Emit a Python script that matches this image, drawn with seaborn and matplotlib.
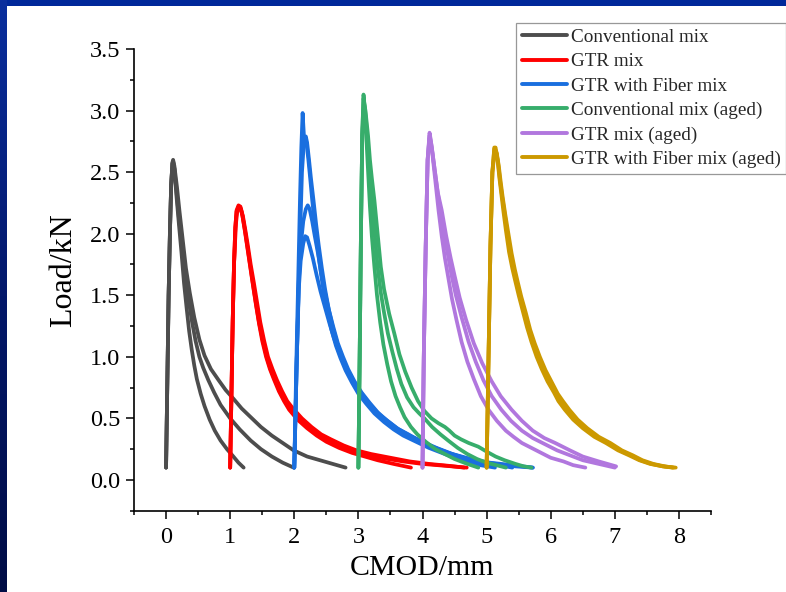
import numpy as np
import pandas as pd
import matplotlib
matplotlib.use("Agg")
import matplotlib.pyplot as plt
from matplotlib.lines import Line2D
from matplotlib.ticker import MultipleLocator
import seaborn as sns

# ---------------- data ----------------
groups = ["Conventional mix", "GTR mix", "GTR with Fiber mix",
          "Conventional mix (aged)", "GTR mix (aged)", "GTR with Fiber mix (aged)"]
colors = ["#4d4d4d", "#ff0000", "#1a6fdf", "#37ad6b", "#b177de", "#cc9900"]

# each specimen: list of [CMOD (mm), Load (kN)] points
conv = [
    [[0.00, 0.10], [0.02, 0.80], [0.04, 1.50], [0.06, 2.00], [0.08, 2.40], [0.10, 2.57], [0.11, 2.59],
     [0.13, 2.52], [0.16, 2.32], [0.20, 2.08], [0.24, 1.85], [0.28, 1.60], [0.32, 1.40], [0.36, 1.21],
     [0.40, 1.06], [0.44, 0.93], [0.48, 0.82], [0.54, 0.70], [0.60, 0.60], [0.68, 0.49], [0.76, 0.40],
     [0.85, 0.32], [0.95, 0.25], [1.05, 0.19], [1.13, 0.14], [1.21, 0.10]],
    [[0.00, 0.10], [0.02, 0.80], [0.04, 1.50], [0.06, 2.00], [0.08, 2.40], [0.10, 2.57], [0.11, 2.58],
     [0.13, 2.53], [0.16, 2.36], [0.20, 2.13], [0.25, 1.90], [0.30, 1.68], [0.35, 1.47], [0.40, 1.30],
     [0.46, 1.13], [0.52, 1.00], [0.58, 0.91], [0.66, 0.81], [0.75, 0.71], [0.85, 0.61], [1.00, 0.50],
     [1.15, 0.41], [1.32, 0.32], [1.48, 0.25], [1.65, 0.19], [1.82, 0.14], [1.99, 0.10]],
    [[0.00, 0.10], [0.02, 0.80], [0.04, 1.50], [0.06, 2.00], [0.08, 2.40], [0.10, 2.58], [0.11, 2.60],
     [0.13, 2.55], [0.17, 2.38], [0.21, 2.18], [0.26, 1.95], [0.31, 1.72], [0.37, 1.52], [0.44, 1.32],
     [0.52, 1.14], [0.60, 1.01], [0.70, 0.90], [0.82, 0.81], [0.93, 0.73], [1.05, 0.66], [1.18, 0.58],
     [1.32, 0.51], [1.48, 0.43], [1.65, 0.36], [1.82, 0.30], [1.99, 0.24], [2.20, 0.19], [2.40, 0.16],
     [2.60, 0.13], [2.80, 0.10]],
]

gtr = [
    [[1.00, 0.10], [1.02, 0.70], [1.04, 1.30], [1.06, 1.75], [1.08, 2.05], [1.10, 2.19], [1.13, 2.23],
     [1.16, 2.22], [1.19, 2.15], [1.23, 2.02], [1.27, 1.88], [1.31, 1.74], [1.35, 1.60], [1.40, 1.43],
     [1.45, 1.27], [1.50, 1.13], [1.56, 1.00], [1.62, 0.90], [1.68, 0.82], [1.76, 0.72], [1.84, 0.64],
     [1.92, 0.57], [2.05, 0.49], [2.20, 0.42], [2.35, 0.36], [2.50, 0.31], [2.70, 0.26], [2.90, 0.22],
     [3.10, 0.19], [3.30, 0.16], [3.55, 0.13], [3.82, 0.10]],
    [[1.00, 0.10], [1.02, 0.70], [1.04, 1.30], [1.06, 1.75], [1.08, 2.05], [1.10, 2.18], [1.13, 2.22],
     [1.16, 2.21], [1.19, 2.15], [1.23, 2.03], [1.27, 1.89], [1.31, 1.75], [1.35, 1.61], [1.40, 1.44],
     [1.45, 1.28], [1.51, 1.13], [1.57, 1.00], [1.63, 0.90], [1.70, 0.81], [1.78, 0.72], [1.86, 0.64],
     [1.95, 0.57], [2.08, 0.49], [2.22, 0.43], [2.37, 0.37], [2.52, 0.32], [2.72, 0.27], [2.92, 0.235],
     [3.15, 0.20], [3.40, 0.175], [3.70, 0.15], [4.00, 0.13], [4.35, 0.115], [4.69, 0.10]],
    [[1.00, 0.10], [1.02, 0.70], [1.04, 1.30], [1.06, 1.75], [1.09, 2.08], [1.11, 2.18], [1.14, 2.21],
     [1.17, 2.20], [1.20, 2.14], [1.24, 2.02], [1.28, 1.89], [1.32, 1.75], [1.37, 1.60], [1.42, 1.44],
     [1.47, 1.28], [1.53, 1.13], [1.59, 1.00], [1.66, 0.90], [1.73, 0.81], [1.81, 0.72], [1.89, 0.64],
     [1.98, 0.58], [2.12, 0.50], [2.27, 0.43], [2.42, 0.37], [2.57, 0.33], [2.77, 0.28], [2.97, 0.24],
     [3.20, 0.21], [3.50, 0.18], [3.80, 0.15], [4.10, 0.13], [4.40, 0.115], [4.65, 0.10]],
]

fib = [
    [[2.00, 0.10], [2.03, 0.90], [2.06, 1.60], [2.09, 2.30], [2.11, 2.70], [2.13, 2.98], [2.15, 2.80],
     [2.17, 2.78], [2.19, 2.74], [2.22, 2.60], [2.25, 2.44], [2.28, 2.27], [2.32, 2.08], [2.36, 1.90],
     [2.41, 1.70], [2.46, 1.52], [2.52, 1.36], [2.58, 1.22], [2.65, 1.09], [2.72, 0.99], [2.80, 0.89],
     [2.90, 0.79], [3.00, 0.70], [3.12, 0.62], [3.25, 0.54], [3.40, 0.47], [3.55, 0.41], [3.70, 0.36],
     [3.90, 0.31], [4.10, 0.26], [4.30, 0.22], [4.50, 0.18], [4.70, 0.15], [4.90, 0.12], [5.13, 0.10]],
    [[2.00, 0.10], [2.04, 1.00], [2.08, 1.80], [2.12, 2.50], [2.15, 2.74], [2.18, 2.79], [2.20, 2.74],
     [2.23, 2.60], [2.26, 2.45], [2.30, 2.27], [2.34, 2.08], [2.38, 1.91], [2.43, 1.72], [2.48, 1.55],
     [2.54, 1.38], [2.60, 1.24], [2.67, 1.11], [2.74, 1.00], [2.82, 0.90], [2.92, 0.80], [3.03, 0.71],
     [3.15, 0.63], [3.28, 0.55], [3.43, 0.48], [3.58, 0.42], [3.75, 0.37], [3.95, 0.32], [4.15, 0.27],
     [4.40, 0.22], [4.65, 0.18], [4.90, 0.15], [5.15, 0.13], [5.45, 0.11], [5.72, 0.10]],
    [[2.00, 0.10], [2.04, 1.00], [2.07, 1.60], [2.10, 1.90], [2.14, 2.10], [2.18, 2.20], [2.21, 2.23],
     [2.24, 2.20], [2.28, 2.10], [2.32, 1.98], [2.37, 1.84], [2.42, 1.68], [2.48, 1.52], [2.54, 1.38],
     [2.61, 1.24], [2.68, 1.11], [2.76, 1.00], [2.84, 0.90], [2.94, 0.80], [3.05, 0.71], [3.17, 0.63],
     [3.30, 0.55], [3.45, 0.48], [3.60, 0.42], [3.78, 0.37], [3.98, 0.31], [4.20, 0.26], [4.45, 0.21],
     [4.70, 0.17], [4.95, 0.14], [5.20, 0.12], [5.40, 0.10]],
    [[2.00, 0.10], [2.04, 1.00], [2.07, 1.55], [2.10, 1.78], [2.14, 1.92], [2.17, 1.98], [2.20, 1.97],
     [2.24, 1.90], [2.29, 1.80], [2.35, 1.66], [2.41, 1.53], [2.48, 1.40], [2.55, 1.27], [2.62, 1.15],
     [2.70, 1.04], [2.78, 0.94], [2.87, 0.85], [2.97, 0.76], [3.08, 0.68], [3.20, 0.60], [3.33, 0.53],
     [3.48, 0.47], [3.63, 0.41], [3.80, 0.36], [4.00, 0.31], [4.22, 0.26], [4.47, 0.21], [4.75, 0.17],
     [5.05, 0.14], [5.40, 0.12], [5.72, 0.10]],
]

conv_aged = [
    [[3.00, 0.10], [3.02, 1.00], [3.04, 2.00], [3.06, 2.80], [3.08, 3.13], [3.10, 3.02], [3.12, 2.82],
     [3.15, 2.52], [3.18, 2.22], [3.21, 1.98], [3.25, 1.73], [3.29, 1.50], [3.34, 1.28], [3.39, 1.10],
     [3.45, 0.94], [3.51, 0.80], [3.58, 0.68], [3.65, 0.59], [3.72, 0.51], [3.82, 0.43], [3.92, 0.37],
     [4.05, 0.31], [4.20, 0.25], [4.35, 0.21], [4.50, 0.17], [4.70, 0.13], [4.87, 0.10]],
    [[3.00, 0.10], [3.02, 1.00], [3.04, 2.00], [3.06, 2.80], [3.08, 3.10], [3.11, 3.00], [3.14, 2.75],
     [3.17, 2.50], [3.21, 2.27], [3.25, 2.02], [3.30, 1.73], [3.35, 1.52], [3.40, 1.36], [3.46, 1.19],
     [3.53, 1.04], [3.60, 0.90], [3.67, 0.78], [3.76, 0.67], [3.86, 0.59], [3.95, 0.54], [4.03, 0.50],
     [4.15, 0.43], [4.28, 0.37], [4.40, 0.32], [4.55, 0.26], [4.70, 0.21], [4.85, 0.17], [5.00, 0.14],
     [5.15, 0.12], [5.30, 0.10]],
    [[3.00, 0.10], [3.02, 1.00], [3.04, 2.00], [3.06, 2.80], [3.09, 3.05], [3.12, 2.95], [3.15, 2.80],
     [3.18, 2.60], [3.21, 2.45], [3.25, 2.27], [3.30, 2.00], [3.35, 1.73], [3.40, 1.55], [3.48, 1.35],
     [3.56, 1.19], [3.64, 1.02], [3.73, 0.88], [3.83, 0.75], [3.93, 0.64], [4.03, 0.56], [4.14, 0.50],
     [4.25, 0.46], [4.35, 0.43], [4.42, 0.40], [4.50, 0.36], [4.60, 0.33], [4.72, 0.30], [4.87, 0.27],
     [5.00, 0.23], [5.14, 0.19], [5.28, 0.16], [5.45, 0.13], [5.58, 0.11], [5.70, 0.10]],
]

gtr_aged = [
    [[4.00, 0.10], [4.02, 1.00], [4.05, 1.90], [4.08, 2.60], [4.11, 2.82], [4.13, 2.76], [4.16, 2.62],
     [4.20, 2.43], [4.25, 2.19], [4.30, 1.98], [4.35, 1.80], [4.40, 1.65], [4.46, 1.47], [4.53, 1.30],
     [4.61, 1.12], [4.70, 0.96], [4.80, 0.82], [4.91, 0.68], [5.03, 0.57], [5.16, 0.48], [5.30, 0.40],
     [5.42, 0.35], [5.55, 0.30], [5.70, 0.26], [5.85, 0.22], [6.00, 0.18], [6.20, 0.15], [6.35, 0.12],
     [6.54, 0.10]],
    [[4.00, 0.10], [4.02, 1.00], [4.05, 1.90], [4.08, 2.60], [4.11, 2.80], [4.14, 2.72], [4.18, 2.56],
     [4.23, 2.36], [4.28, 2.19], [4.34, 1.98], [4.40, 1.82], [4.45, 1.67], [4.52, 1.50], [4.61, 1.32],
     [4.72, 1.12], [4.83, 0.96], [4.95, 0.81], [5.08, 0.68], [5.23, 0.57], [5.38, 0.48], [5.55, 0.40],
     [5.72, 0.34], [5.91, 0.29], [6.10, 0.24], [6.30, 0.20], [6.50, 0.16], [6.75, 0.13], [7.00, 0.10]],
    [[4.00, 0.10], [4.02, 1.00], [4.05, 1.90], [4.08, 2.60], [4.11, 2.78], [4.15, 2.68], [4.19, 2.52],
     [4.24, 2.33], [4.30, 2.19], [4.37, 1.98], [4.44, 1.80], [4.50, 1.66], [4.58, 1.48], [4.68, 1.30],
     [4.80, 1.11], [4.93, 0.95], [5.08, 0.80], [5.22, 0.68], [5.39, 0.57], [5.55, 0.48], [5.72, 0.40],
     [5.90, 0.34], [6.07, 0.30], [6.30, 0.24], [6.50, 0.19], [6.75, 0.15], [7.02, 0.11]],
]

fib_aged = [
    [[5.00, 0.10], [5.03, 1.00], [5.06, 1.90], [5.09, 2.50], [5.12, 2.70], [5.14, 2.70], [5.17, 2.60],
     [5.20, 2.45], [5.23, 2.32], [5.26, 2.19], [5.30, 2.03], [5.35, 1.85], [5.40, 1.72], [5.44, 1.63],
     [5.50, 1.50], [5.56, 1.38], [5.63, 1.24], [5.70, 1.12], [5.78, 1.00], [5.86, 0.90], [5.95, 0.80],
     [6.05, 0.71], [6.12, 0.64], [6.22, 0.57], [6.35, 0.49], [6.50, 0.42], [6.68, 0.35], [6.86, 0.30],
     [7.05, 0.24], [7.22, 0.20], [7.38, 0.16], [7.55, 0.13], [7.75, 0.11], [7.95, 0.10]],
    [[5.00, 0.10], [5.03, 1.00], [5.06, 1.90], [5.09, 2.50], [5.12, 2.69], [5.15, 2.67], [5.18, 2.57],
     [5.21, 2.43], [5.24, 2.31], [5.28, 2.17], [5.32, 2.02], [5.37, 1.85], [5.42, 1.72], [5.46, 1.63],
     [5.52, 1.50], [5.59, 1.37], [5.66, 1.23], [5.73, 1.12], [5.81, 1.00], [5.89, 0.90], [5.98, 0.80],
     [6.08, 0.71], [6.16, 0.64], [6.26, 0.57], [6.39, 0.49], [6.54, 0.42], [6.72, 0.35], [6.90, 0.30],
     [7.08, 0.24], [7.25, 0.20], [7.40, 0.16], [7.57, 0.13], [7.75, 0.11], [7.90, 0.10]],
    [[5.00, 0.10], [5.03, 1.00], [5.06, 1.90], [5.09, 2.50], [5.13, 2.68], [5.16, 2.65], [5.19, 2.55],
     [5.22, 2.42], [5.25, 2.30], [5.29, 2.16], [5.34, 2.00], [5.39, 1.84], [5.44, 1.71], [5.48, 1.62],
     [5.54, 1.49], [5.61, 1.36], [5.68, 1.22], [5.75, 1.11], [5.83, 1.00], [5.92, 0.89], [6.01, 0.80],
     [6.11, 0.70], [6.19, 0.64], [6.29, 0.57], [6.42, 0.49], [6.57, 0.42], [6.75, 0.35], [6.93, 0.30],
     [7.11, 0.24], [7.28, 0.20], [7.43, 0.16], [7.60, 0.13], [7.78, 0.11], [7.92, 0.10]],
]

x_ticks = [0, 1, 2, 3, 4, 5, 6, 7, 8]
y_ticks = [0.0, 0.5, 1.0, 1.5, 2.0, 2.5, 3.0, 3.5]

# ---------------- long-form table ----------------
all_specs = [conv, gtr, fib, conv_aged, gtr_aged, fib_aged]
rows = []
for g, specs in zip(groups, all_specs):
    for k, pts in enumerate(specs):
        for i, (a, b) in enumerate(pts):
            rows.append({"group": g, "spec": f"{g}-{k}", "order": i, "CMOD": a, "Load": b})
df = pd.DataFrame(rows)

# ---------------- plot ----------------
sns.set_theme(style="ticks")
plt.rcParams["font.family"] = ["Liberation Serif", "DejaVu Serif"]

fig = plt.figure(figsize=(7.86, 5.92), dpi=100)
fig.patch.set_facecolor("white")

# blue slide border (top and left)
bg_top = fig.add_axes([0, 1 - 6 / 592, 1, 6 / 592])
bg_top.set_axis_off()
bg_top.add_patch(plt.Rectangle((0, 0), 1, 1, color="#00289a", transform=bg_top.transAxes))
bg_left = fig.add_axes([0, 0, 7 / 786, 1])
grad = np.linspace(0, 1, 256).reshape(-1, 1)
cmap = matplotlib.colors.LinearSegmentedColormap.from_list("b", ["#0a2f9e", "#03186a", "#000c45"])
bg_left.imshow(grad, aspect="auto", cmap=cmap, extent=[0, 1, 0, 1])
bg_left.set_axis_off()

ax = fig.add_axes([134 / 786, 1 - 510.7 / 592, (711 - 134) / 786, (510.7 - 49) / 592])
sns.lineplot(data=df, x="CMOD", y="Load", hue="group", hue_order=groups,
             palette=colors, units="spec", estimator=None, sort=False,
             linewidth=2.7, legend=False, ax=ax)
for ln in ax.lines:
    ln.set_solid_joinstyle("round")
    ln.set_solid_capstyle("round")

ax.set_xlim(-0.5, 8.5)
ax.set_ylim(-0.25, 3.5)
ax.set_xticks(x_ticks)
ax.set_yticks(y_ticks)
ax.set_yticklabels([f"{v:.1f}" for v in y_ticks])
ax.xaxis.set_minor_locator(MultipleLocator(0.5))
ax.yaxis.set_minor_locator(MultipleLocator(0.25))
ax.tick_params(axis="both", which="major", direction="out", length=6, width=1.1,
               labelsize=17.5, color="black", labelcolor="black")
ax.tick_params(axis="both", which="minor", direction="out", length=3, width=1.1, color="black")
ax.tick_params(axis="x", which="major", pad=6)
ax.tick_params(axis="y", which="major", pad=4)
for s in ["top", "right"]:
    ax.spines[s].set_visible(False)
for s in ["left", "bottom"]:
    ax.spines[s].set_linewidth(1.2)
    ax.spines[s].set_color("black")
ax.set_xlabel("CMOD/mm", fontsize=21.5, color="black")
ax.set_ylabel("Load/kN", fontsize=23, color="black")
ax.xaxis.set_label_coords((422 - 134) / 577, -(555 - 510.7) / 461.7)
ax.yaxis.set_label_coords((78 - 134) / 577, (510.7 - 270) / 461.7)

handles = [Line2D([], [], color=c, lw=2.8) for c in colors]
leg = fig.legend(handles, groups, loc="upper left",
                 bbox_to_anchor=(516 / 786, 1 - 23 / 592), bbox_transform=fig.transFigure,
                 fontsize=13.8, frameon=True, fancybox=False, edgecolor="#7f7f7f",
                 borderpad=0.3, borderaxespad=0, labelspacing=0.36,
                 handlelength=2.35, handletextpad=0.2)
leg.get_frame().set_linewidth(0.9)

fig.savefig("out.png", dpi=100)
